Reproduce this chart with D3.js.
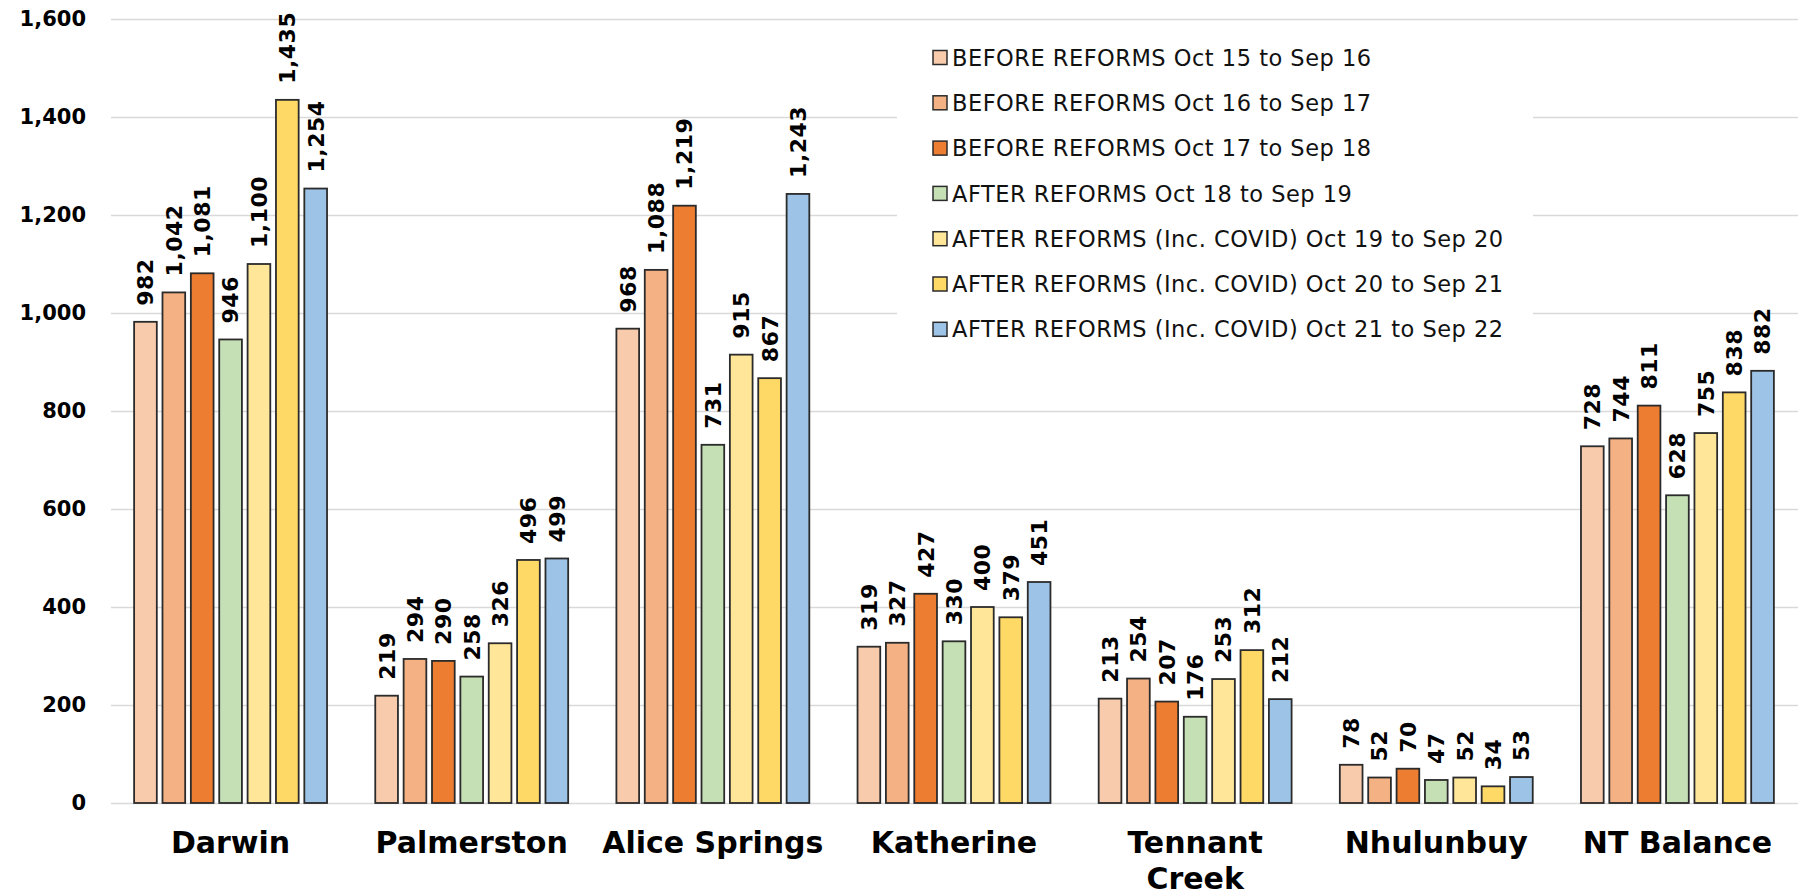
<!DOCTYPE html>
<html>
<head>
<meta charset="utf-8">
<script src="https://cdn.jsdelivr.net/npm/d3@7"></script>
<style>
    body { margin: 0; background: #fff; }
    svg { display: block; font-family: "DejaVu Sans", Verdana, sans-serif; }
</style>
</head>
<body>
<svg width="1805" height="896"></svg>
<script>
// NT grouped bar chart, before / after reforms

var categories = ["Darwin", "Palmerston", "Alice Springs", "Katherine", "Tennant Creek", "Nhulunbuy", "NT Balance"];

var seriesNames = [
    "BEFORE REFORMS Oct 15 to Sep 16",
    "BEFORE REFORMS Oct 16 to Sep 17",
    "BEFORE REFORMS Oct 17 to Sep 18",
    "AFTER REFORMS Oct 18 to Sep 19",
    "AFTER REFORMS (Inc. COVID) Oct 19 to Sep 20",
    "AFTER REFORMS (Inc. COVID) Oct 20 to Sep 21",
    "AFTER REFORMS (Inc. COVID) Oct 21 to Sep 22"
];

var seriesColors = ["#f8cbad", "#f4b183", "#ed7d31", "#c5e0b4", "#ffe699", "#ffd966", "#9dc3e6"];

var oct15 = [982, 219, 968, 319, 213, 78, 728];
var oct16 = [1042, 294, 1088, 327, 254, 52, 744];
var oct17 = [1081, 290, 1219, 427, 207, 70, 811];
var oct18 = [946, 258, 731, 330, 176, 47, 628];
var oct19 = [1100, 326, 915, 400, 253, 52, 755];
var oct20 = [1435, 496, 867, 379, 312, 34, 838];
var oct21 = [1254, 499, 1243, 451, 212, 53, 882];

var yTicks = [0, 200, 400, 600, 800, 1000, 1200, 1400, 1600];

var seriesValues = [oct15, oct16, oct17, oct18, oct19, oct20, oct21];

var svg = d3.select("svg"),
    width = +svg.attr("width"),
    height = +svg.attr("height");

var x0 = d3.scaleBand()
    .domain(categories)
    .range([110, 1798])
    .paddingInner(0.2)
    .paddingOuter(0.1);

var x1 = d3.scaleBand()
    .domain(d3.range(seriesNames.length))
    .range([0, x0.bandwidth()])
    .paddingInner(0.2);

var y = d3.scaleLinear()
    .domain([0, 1600])
    .range([803, 19]);

var fmt = d3.format(",");

// grid
var yAxis = d3.axisLeft(y)
    .tickValues(yTicks)
    .tickSize(-(1798 - 111))
    .tickPadding(25)
    .tickFormat(fmt);

var gy = svg.append("g")
    .attr("transform", "translate(111,0)")
    .call(yAxis);

gy.select(".domain").remove();
gy.selectAll(".tick line")
    .attr("stroke", "#d9d9d9")
    .attr("stroke-width", 1.5);
gy.selectAll(".tick text")
    .attr("fill", "#000")
    .attr("font-size", "21px")
    .attr("font-weight", "bold")
    .attr("font-family", "DejaVu Sans, Verdana, sans-serif");

// bars
var group = svg.append("g")
    .selectAll("g")
    .data(categories)
    .enter().append("g")
    .attr("transform", function(d) { return "translate(" + x0(d) + ",0)"; });

var cells = group.selectAll(".bar")
    .data(function(d, ci) {
        return seriesValues.map(function(vals, si) { return {s: si, v: vals[ci]}; });
    })
    .enter();

cells.append("rect")
    .attr("class", "bar")
    .attr("x", function(d) { return x1(d.s); })
    .attr("y", function(d) { return y(d.v); })
    .attr("width", x1.bandwidth())
    .attr("height", function(d) { return y(0) - y(d.v); })
    .attr("fill", function(d) { return seriesColors[d.s]; })
    .attr("stroke", "#2b2b2b")
    .attr("stroke-width", 1.8);

cells.append("text")
    .attr("transform", function(d) {
        return "translate(" + (x1(d.s) + x1.bandwidth() / 2) + "," + (y(d.v) - 16) + ") rotate(-90)";
    })
    .attr("dy", "0.36em")
    .attr("font-size", "22px")
    .attr("letter-spacing", "0.5px")
    .attr("font-weight", "bold")
    .attr("fill", "#000")
    .text(function(d) { return fmt(d.v); });

// category labels
var xl = svg.append("g")
    .selectAll("text")
    .data(categories)
    .enter().append("text")
    .attr("x", function(d) { return x0(d) + x0.bandwidth() / 2; })
    .attr("y", 853)
    .attr("text-anchor", "middle")
    .attr("font-size", "30px")
    .attr("font-weight", "bold")
    .attr("fill", "#000");

xl.each(function(d) {
    var words = d == "Tennant Creek" ? ["Tennant", "Creek"] : [d];
    var t = d3.select(this);
    words.forEach(function(w, i) {
        t.append("tspan")
            .attr("x", t.attr("x"))
            .attr("dy", i ? 36 : 0)
            .text(w);
    });
});

// legend
var legend = svg.append("g");

legend.append("rect")
    .attr("x", 897)
    .attr("y", 30)
    .attr("width", 1533 - 897)
    .attr("height", 322)
    .attr("fill", "#fff");

var item = legend.selectAll(".item")
    .data(seriesNames)
    .enter().append("g")
    .attr("class", "item")
    .attr("transform", function(d, i) { return "translate(933," + (57.5 + i * 45.3) + ")"; });

item.append("rect")
    .attr("x", 0)
    .attr("y", -7)
    .attr("width", 14)
    .attr("height", 14)
    .attr("fill", function(d, i) { return seriesColors[i]; })
    .attr("stroke", "#2b2b2b")
    .attr("stroke-width", 1.5);

item.append("text")
    .attr("x", 19)
    .attr("dy", "0.36em")
    .attr("font-size", "22.5px")
    .attr("letter-spacing", "0.5px")
    .attr("fill", "#111")
    .text(function(d) { return d; });
</script>
</body>
</html>
